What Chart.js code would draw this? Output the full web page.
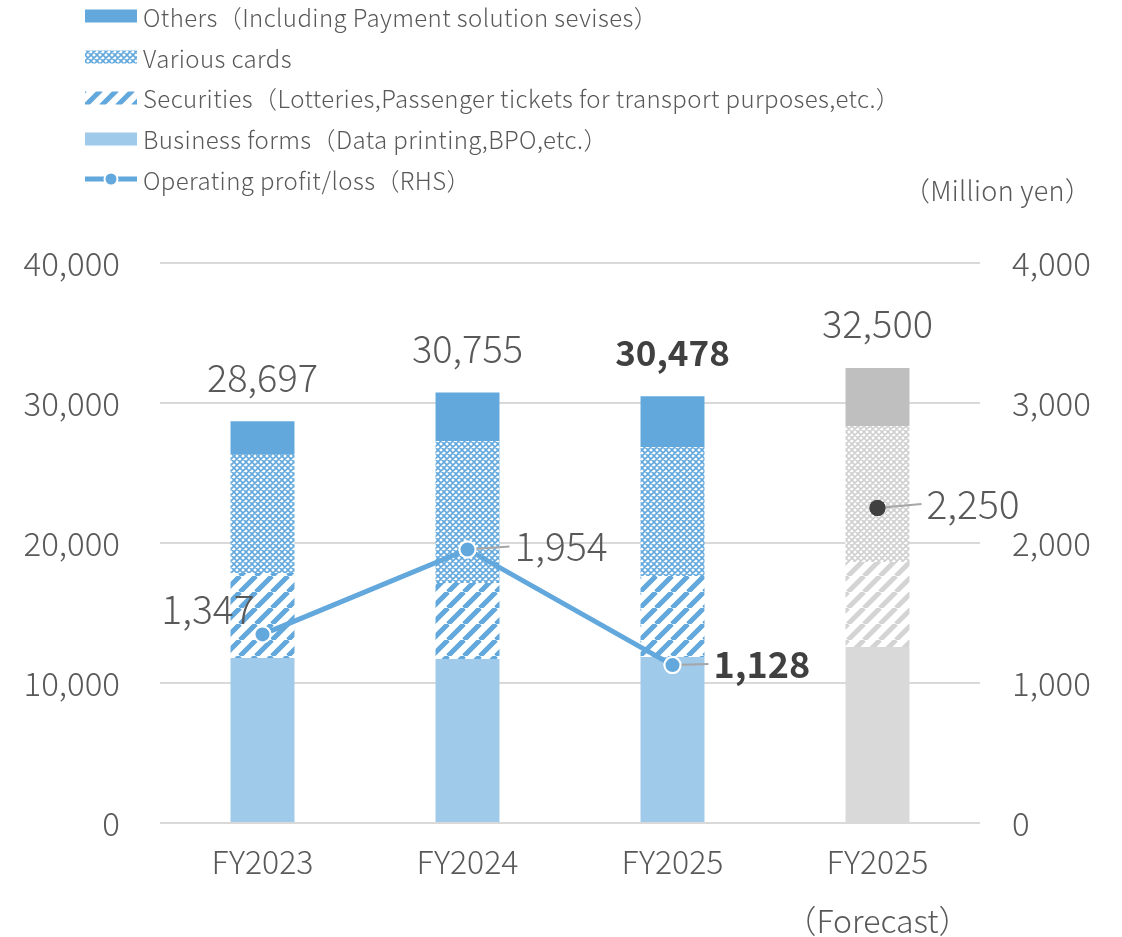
<!DOCTYPE html>
<html>
<head>
<meta charset="utf-8">
<script src="https://cdn.jsdelivr.net/npm/chart.js@4"></script>
<style>
  body { margin: 0; background: #fff; }
  #wrap { position: relative; width: 1122px; height: 937px; font-family: 'Noto Sans CJK JP', 'Noto Sans', sans-serif; color: #595959; }
  #chart { position: absolute; left: 0; top: 0; }
  #legend { position: absolute; left: 85px; top: -4px; }
  .row { height: 40.75px; display: flex; align-items: center; font-size: 24px; font-weight: 300; letter-spacing: 0.4px; white-space: nowrap; }
  .row canvas { margin-right: 6px; }
  #unit { position: absolute; left: 903px; top: 170px; font-size: 27px; font-weight: 300; letter-spacing: 0.3px; }
</style>
</head>
<body>
<div id="wrap">
  <canvas id="chart" width="1122" height="937"></canvas>
  <div id="legend"></div>
  <div id="unit">（Million yen）</div>
</div>
<script>
'use strict';

// categories and values (million yen)
const categories = [['FY2023'], ['FY2024'], ['FY2025'], ['FY2025', '（Forecast）']];
const businessForms = [11786, 11714, 11857, 12571];
const securities = [6071, 5429, 5786, 6072];
const variousCards = [8500, 10143, 9214, 9714];
const others = [2340, 3469, 3621, 4143];
const totals = [28697, 30755, 30478, 32500];
const operatingProfit = [1347, 1954, 1128, null];
const forecastProfit = [null, null, null, 2250];
const leftTicks = [0, 10000, 20000, 30000, 40000];
const rightTicks = [0, 1000, 2000, 3000, 4000];

const seriesNames = [
  'Others（Including Payment solution sevises）',
  'Various cards',
  'Securities（Lotteries,Passenger tickets  for transport purposes,etc.）',
  'Business forms（Data printing,BPO,etc.）',
  'Operating profit/loss（RHS）'
];

const BLUE = '#62a8dc';
const LIGHT_BLUE = '#9fcae9';
const GREY = '#bfbfbf';
const LIGHT_GREY = '#d9d9d9';

/**
 * diagonal stripes going up to the right
 */
const makeStripes = function (color) {
  const c = document.createElement('canvas');
  c.width = 16; c.height = 16;
  const g = c.getContext('2d');
  g.fillStyle = '#fff';
  g.fillRect(0, 0, 16, 16);
  g.strokeStyle = color;
  g.lineWidth = 5;
  g.beginPath();
  for (let k = -16; k <= 16; k += 16) {
    g.moveTo(k, 16);
    g.lineTo(k + 16, 0);
  }
  g.stroke();
  return g.createPattern(c, 'repeat');
}

/**
 * small diamond lattice
 */
const makeLattice = function (color) {
  const c = document.createElement('canvas');
  c.width = 6; c.height = 6;
  const g = c.getContext('2d');
  g.fillStyle = '#fff';
  g.fillRect(0, 0, 6, 6);
  g.strokeStyle = color;
  g.lineWidth = 1.6;
  g.beginPath();
  g.moveTo(-6, 6); g.lineTo(6, -6);
  g.moveTo(0, 6); g.lineTo(6, 0);
  g.moveTo(6, 12); g.lineTo(12, 6);
  g.moveTo(0, 0); g.lineTo(6, 6);
  g.moveTo(-6, 0); g.lineTo(6, 12);
  g.moveTo(0, -6); g.lineTo(12, 6);
  g.stroke();
  return g.createPattern(c, 'repeat');
}

const stripesBlue = makeStripes(BLUE);
const stripesGrey = makeStripes('#d4d4d4');
const latticeBlue = makeLattice(BLUE);
const latticeGrey = makeLattice('#cfcfcf');

const perBar = function (actual, forecast) {
  return [actual, actual, actual, forecast];
}

const fmt = function (v) {
  return v.toLocaleString('en-US');
}

const FONT = "'Noto Sans CJK JP', 'Noto Sans', sans-serif";

// value labels: totals over bars, profit next to points
const labelPlugin = {
  id: 'labels',
  afterDatasetsDraw(chart) {
    const ctx = chart.ctx;
    ctx.save();
    ctx.textBaseline = 'middle';

    const topMeta = chart.getDatasetMeta(3);
    topMeta.data.forEach((bar, i) => {
      const bold = i === 2;
      ctx.font = (bold ? '700 35px ' : '300 38px ') + FONT;
      ctx.fillStyle = bold ? '#404040' : '#595959';
      ctx.textAlign = 'center';
      ctx.fillText(fmt(totals[i]), bar.x, bar.y - 44);
    });

    const drawLead = function (pt, len, text, bold, dy) {
      ctx.strokeStyle = '#a6a6a6';
      ctx.lineWidth = 2;
      ctx.beginPath();
      ctx.moveTo(pt.x, pt.y);
      ctx.lineTo(pt.x + len, pt.y + dy);
      ctx.stroke();
      ctx.font = (bold ? '700 36px ' : '300 39px ') + FONT;
      ctx.fillStyle = bold ? '#404040' : '#595959';
      ctx.textAlign = 'left';
      ctx.fillText(text, pt.x + len + 5, pt.y + dy);
    }

    const lineMeta = chart.getDatasetMeta(4);
    const p0 = lineMeta.data[0];
    ctx.font = '300 39px ' + FONT;
    ctx.fillStyle = '#595959';
    ctx.textAlign = 'right';
    ctx.fillText(fmt(operatingProfit[0]), p0.x - 8, p0.y - 25);

    // leader lines are drawn under the points, so redraw points after
    drawLead(lineMeta.data[1], 42, fmt(operatingProfit[1]), false, -3);
    drawLead(lineMeta.data[2], 36, fmt(operatingProfit[2]), true, -1);
    const fMeta = chart.getDatasetMeta(5);
    drawLead(fMeta.data[3], 44, fmt(forecastProfit[3]), false, -4);

    ctx.restore();
    lineMeta.data.forEach(p => { if (!p.skip) p.draw(ctx); });
    fMeta.data.forEach(p => { if (!p.skip) p.draw(ctx); });
  }
};

const ctx = document.getElementById('chart').getContext('2d');

const chart = new Chart(ctx, {
  type: 'bar',
  data: {
    labels: categories,
    datasets: [
      { label: seriesNames[3], data: businessForms, backgroundColor: perBar(LIGHT_BLUE, LIGHT_GREY), order: 2 },
      { label: seriesNames[2], data: securities, backgroundColor: perBar(stripesBlue, stripesGrey), order: 2 },
      { label: seriesNames[1], data: variousCards, backgroundColor: perBar(latticeBlue, latticeGrey), order: 2 },
      { label: seriesNames[0], data: others, backgroundColor: perBar(BLUE, GREY), order: 2 },
      {
        type: 'line', label: seriesNames[4], data: operatingProfit, yAxisID: 'y1', order: 0,
        borderColor: BLUE, borderWidth: 5, pointRadius: 8, pointBackgroundColor: BLUE,
        pointBorderColor: '#fff', pointBorderWidth: 2, spanGaps: false
      },
      {
        type: 'line', label: 'forecast', data: forecastProfit, yAxisID: 'y1', order: 0,
        showLine: false, pointRadius: 8, pointBackgroundColor: '#404040', pointBorderColor: '#404040', pointBorderWidth: 0
      }
    ]
  },
  options: {
    responsive: false,
    animation: false,
    layout: { padding: { top: 263, left: 0, right: 0, bottom: 0 } },
    plugins: {
      legend: { display: false },
      tooltip: { enabled: false }
    },
    datasets: { bar: { barPercentage: 1, categoryPercentage: 0.312 } },
    scales: {
      x: {
        stacked: true,
        grid: { display: false },
        border: { display: false },
        ticks: { color: '#595959', padding: 1, font: { family: FONT, size: 32, weight: 300, lineHeight: 1.85 } },
        afterFit(s) { s.height = 114; }
      },
      y: {
        stacked: true,
        min: 0, max: 40000,
        afterBuildTicks(s) { s.ticks = leftTicks.map(v => ({ value: v })); },
        grid: { color: '#d9d9d9', lineWidth: 2, drawTicks: false },
        border: { display: false },
        ticks: { color: '#595959', padding: 40, font: { family: FONT, size: 33, weight: 300 }, callback: v => fmt(v) },
        afterFit(s) { s.width = 160; }
      },
      y1: {
        position: 'right',
        min: 0, max: 4000,
        afterBuildTicks(s) { s.ticks = rightTicks.map(v => ({ value: v })); },
        grid: { display: false, drawTicks: false },
        border: { display: false },
        ticks: { color: '#595959', padding: 32, font: { family: FONT, size: 33, weight: 300 }, callback: v => fmt(v) },
        afterFit(s) { s.width = 142; }
      }
    }
  },
  plugins: [labelPlugin]
});

// html legend, one entry per line
const legendEl = document.getElementById('legend');
const swatches = [
  { fill: BLUE, h: 13 },
  { fill: latticeBlue, h: 13 },
  { fill: stripesBlue, h: 13 },
  { fill: LIGHT_BLUE, h: 13 },
  { line: true }
];
seriesNames.forEach((name, i) => {
  const row = document.createElement('div');
  row.className = 'row';
  const sw = document.createElement('canvas');
  sw.width = 52; sw.height = 16;
  const g = sw.getContext('2d');
  const s = swatches[i];
  if (s.line) {
    g.strokeStyle = BLUE;
    g.lineWidth = 5;
    g.beginPath();
    g.moveTo(0, 8); g.lineTo(52, 8);
    g.stroke();
    g.fillStyle = BLUE;
    g.strokeStyle = '#fff';
    g.lineWidth = 2;
    g.beginPath();
    g.arc(26, 8, 6.5, 0, Math.PI * 2);
    g.fill();
    g.stroke();
  } else {
    g.fillStyle = s.fill;
    g.fillRect(0, (16 - s.h) / 2, 52, s.h);
  }
  row.appendChild(sw);
  const t = document.createElement('span');
  t.textContent = name;
  row.appendChild(t);
  legendEl.appendChild(row);
});
</script>
</body>
</html>
